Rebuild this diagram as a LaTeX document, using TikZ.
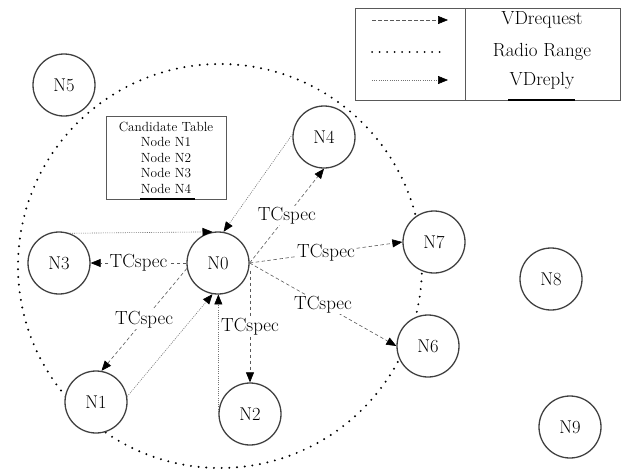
\documentclass[tikz,border=0pt]{standalone}
\usetikzlibrary{arrows.meta}
\begin{document}
\begin{tikzpicture}[x=1pt,y=-1pt,
  nd/.style={circle,draw=black!75,line width=1.3pt,fill=white,minimum size=62pt,inner sep=0pt,font=\fontsize{18.5}{20}\selectfont},
  tip/.style={-{Triangle[length=10pt,width=8pt,black]}},
  req/.style={tip,draw=black!65,line width=0.6pt,dash pattern=on 3.5pt off 2.5pt},
  rep/.style={tip,draw=black!55,line width=0.6pt,dash pattern=on 1pt off 1.2pt},
  lbl/.style={fill=white,inner sep=1pt,font=\fontsize{19}{20}\selectfont},
  txt/.style={inner sep=1pt,font=\fontsize{19}{20}\selectfont},
  rng/.style={draw=black,line width=2.2pt,line cap=round,dash pattern=on 0pt off 7.7pt},
  box/.style={draw=black!65,line width=1pt}]
\useasboundingbox (0,0) rectangle (626,472);
% radio range
\draw[rng] (220,266) circle[radius=202];
% nodes
\node[nd] (N0) at (218,263) {N0};
\node[nd] (N1) at (96,402) {N1};
\node[nd] (N2) at (250,414) {N2};
\node[nd] (N3) at (59,263) {N3};
\node[nd] (N4) at (324,137) {N4};
\node[nd] (N5) at (64,85) {N5};
\node[nd] (N6) at (428,346) {N6};
\node[nd] (N7) at (434,242) {N7};
\node[nd] (N8) at (551,279) {N8};
\node[nd] (N9) at (570,427) {N9};
% candidate table
\node[box,minimum width=120pt,minimum height=83pt,align=center,inner sep=2pt,
  font=\fontsize{13.3}{15.5}\selectfont] (tab) at (166,157.5)
  {Candidate Table\\Node N1\\Node N2\\Node N3\\Node N4};
\coordinate (tb1) at (140,199);
\coordinate (tb2) at (195,199);
\draw[line width=2.5pt] (tb1) -- (tb2);
% VDrequest (TCspec)
\draw[req] (N0.west) -- node[lbl] {TCspec} (N3.east);
\draw[req] (N0.190) -- node[lbl] {TCspec} (N1.80);
\draw[req] (N2.north |- N0.-14) -- node[lbl] {TCspec} (N2.north);
\draw[req] (N0.east) -- node[lbl] {TCspec} (N4.south);
\draw[req] (N0.east) -- node[lbl] {TCspec} (N7.west);
\draw[req] (N0.east) -- node[lbl] {TCspec} (N6.west);
% VDreply
\draw[rep] (N3.70) -- (N0.100);
\draw[rep] (N4.175) -- (N0.80);
\draw[rep] (N1.10) -- (N0.-100);
\draw[rep] (N2.west) -- (N2.west |- N0.-96);
% legend
\draw[box] (355,8) rectangle (620,100);
\coordinate (ld1) at (465,8);
\coordinate (ld2) at (465,100);
\draw[box] (ld1) -- (ld2);
\coordinate (la1) at (372,20); \coordinate (la2) at (448,20);
\coordinate (lb1) at (372,52); \coordinate (lb2) at (445,52);
\coordinate (lc1) at (372,80); \coordinate (lc2) at (448,80);
\draw[req] (la1) -- (la2);
\draw[rng,line width=2pt,dash pattern=on 0pt off 7.5pt] (lb1) -- (lb2);
\draw[rep] (lc1) -- (lc2);
\node[txt] (t1) at (542,20) {VDrequest};
\node[txt] (t2) at (542,52) {Radio Range};
\node[txt] (t3) at (542,81) {VDreply};
\coordinate (lu1) at (508,100);
\coordinate (lu2) at (575,100);
\draw[line width=2.5pt] (lu1) -- (lu2);
\end{tikzpicture}
\end{document}
